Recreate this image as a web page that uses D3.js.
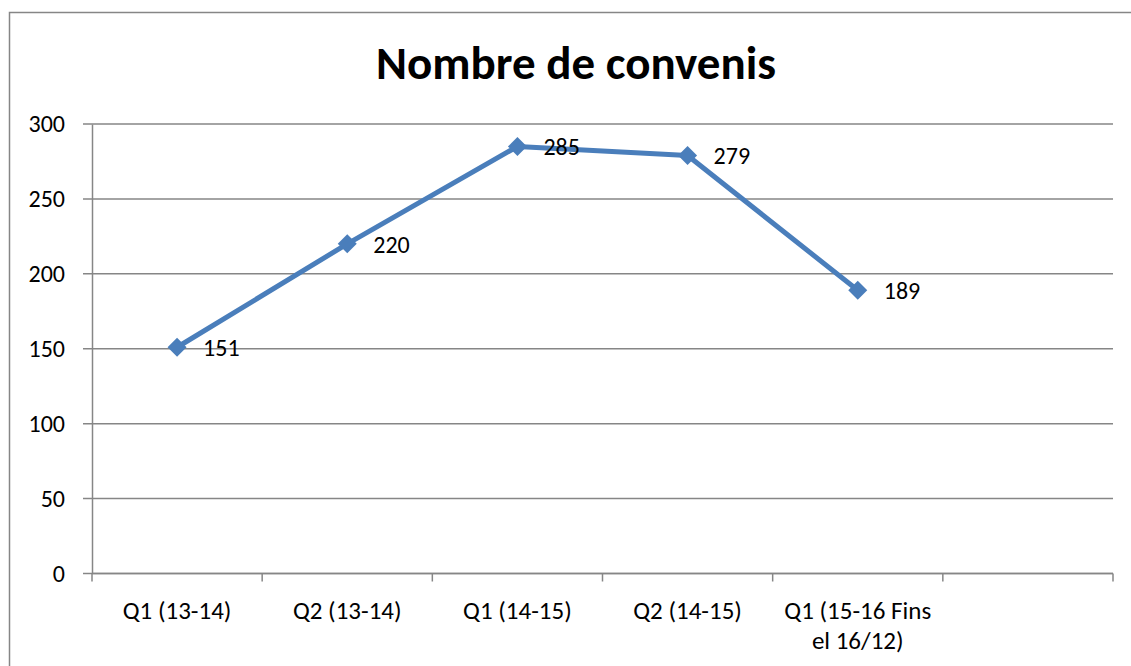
<!DOCTYPE html>
<html>
<head>
<meta charset="utf-8">
<script src="https://cdn.jsdelivr.net/npm/d3@7"></script>
<style>
  body { margin: 0; background: #fff; }
  svg { display: block; font-family: Carlito, "Open Sans", "Noto Sans", sans-serif; }
</style>
</head>
<body>
<div id="chart"></div>
<script>
// chart data
const categories = ["Q1 (13-14)", "Q2 (13-14)", "Q1 (14-15)", "Q2 (14-15)", "Q1 (15-16 Fins el 16/12)", ""];
const categoryLines = [["Q1 (13-14)"], ["Q2 (13-14)"], ["Q1 (14-15)"], ["Q2 (14-15)"], ["Q1 (15-16 Fins", "el 16/12)"], [""]];
const values = [151, 220, 285, 279, 189];
const yTicks = [0, 50, 100, 150, 200, 250, 300];

const width = 1131, height = 666;
const margin = { top: 124, right: 18, bottom: 92, left: 92 };
const gray = "#868686";
const blue = "#4a7ebb";

const svg = d3.select("#chart").append("svg")
  .attr("width", width)
  .attr("height", height);

// outer chart frame
svg.append("rect")
  .attr("x", 9.5).attr("y", 12.5)
  .attr("width", width + 10).attr("height", height + 10)
  .attr("fill", "none").attr("stroke", gray).attr("stroke-width", 1.5);

svg.append("text")
  .attr("x", 576).attr("y", 79)
  .attr("text-anchor", "middle")
  .style("font-weight", "bold")
  .style("font-size", "47px")
  .text("Nombre de convenis");

const x = d3.scaleBand()
  .domain(categories)
  .range([margin.left, width - margin.right]);

const y = d3.scaleLinear()
  .domain([0, 300])
  .range([height - margin.bottom - 0.5, margin.top]);

// gridlines
svg.append("g").selectAll("line")
  .data(yTicks)
  .join("line")
  .attr("x1", margin.left - 9).attr("x2", width - margin.right)
  .attr("y1", d => y(d)).attr("y2", d => y(d))
  .attr("stroke", gray).attr("stroke-width", 1.5);

// y axis
const yAxis = svg.append("g")
  .attr("transform", `translate(${margin.left},0)`)
  .call(d3.axisLeft(y).tickValues(yTicks).tickSize(0).tickPadding(27))
  .attr("font-family", null)
  .attr("font-size", null);
yAxis.select(".domain").attr("stroke", gray).attr("stroke-width", 1.5);
yAxis.selectAll("text").style("font-size", "24px").attr("fill", "#000");

// x axis
const xAxis = svg.append("g")
  .attr("transform", `translate(0,${y(0)})`);
xAxis.append("line")
  .attr("x1", margin.left).attr("x2", width - margin.right)
  .attr("stroke", gray).attr("stroke-width", 1.5);
const edges = categories.map(c => x(c)).concat([x(categories[categories.length - 1]) + x.bandwidth()]);
xAxis.selectAll(".tick")
  .data(edges)
  .join("line")
  .attr("x1", d => d).attr("x2", d => d)
  .attr("y1", 0).attr("y2", 8)
  .attr("stroke", gray).attr("stroke-width", 1.5);
xAxis.selectAll(".lbl")
  .data(categoryLines)
  .join("text")
  .attr("class", "lbl")
  .attr("text-anchor", "middle")
  .style("font-size", "25px")
  .each(function(lines, i) {
    const t = d3.select(this);
    lines.forEach((s, j) => {
      t.append("tspan")
        .attr("x", x(categories[i]) + x.bandwidth() / 2)
        .attr("y", 45 + j * 30)
        .text(s);
    });
  });

// series line
const pts = values.map((v, i) => [x(categories[i]) + x.bandwidth() / 2, y(v)]);
svg.append("path")
  .datum(pts)
  .attr("d", d3.line())
  .attr("fill", "none")
  .attr("stroke", blue)
  .attr("stroke-width", 5)
  .attr("stroke-linejoin", "round");

svg.append("g").selectAll("path")
  .data(pts)
  .join("path")
  .attr("d", d3.symbol(d3.symbolDiamond2, 230))
  .attr("transform", d => `translate(${d[0]},${d[1]})`)
  .attr("fill", blue);

svg.append("g").selectAll("text")
  .data(values)
  .join("text")
  .attr("x", (d, i) => pts[i][0] + 26)
  .attr("y", (d, i) => pts[i][1] + 9)
  .style("font-size", "24px")
  .text(d => d);
</script>
</body>
</html>
